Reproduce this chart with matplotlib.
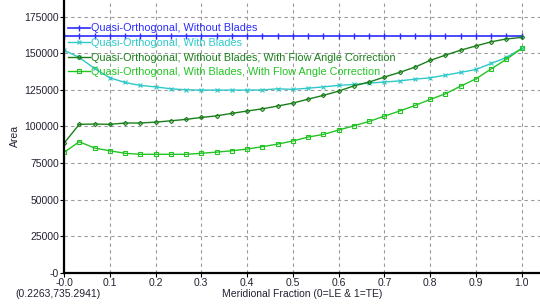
import numpy as np
import matplotlib

matplotlib.use("Agg")
import matplotlib.pyplot as plt

plt.rcParams["font.family"] = ["Liberation Sans", "DejaVu Sans"]

# meridional fraction: 31 stations, 0 -> 1
frac = [i / 30 for i in range(31)]

qo_no_blades = [161700] * 31
qo_blades = [152100, 147100, 139600, 133200, 130000, 128000, 127000, 125700,
             125000, 124800, 124800, 124800, 124800, 124900, 125700, 125300,
             126100, 127000, 128000, 128700, 129600, 130300, 131100, 132300,
             133200, 135000, 136900, 138900, 143000, 147100, 153300]
qo_no_blades_fac = [88400, 101400, 101600, 101400, 102300, 102300, 102900, 103800,
                    104800, 106100, 107200, 108900, 110500, 112000, 113900, 115900,
                    118600, 121200, 124100, 127700, 130300, 133700, 136900, 140500,
                    145100, 148700, 152100, 155000, 157800, 159800, 160800]
qo_blades_fac = [82200, 89500, 85200, 83300, 81600, 80900, 80900, 80900,
                 80900, 81600, 82400, 83300, 84500, 86100, 87900, 90000,
                 92700, 94500, 97500, 100400, 103400, 107000, 110500, 114300,
                 118400, 122300, 127500, 132500, 139300, 145900, 153300]

labels = ["Quasi-Orthogonal, Without Blades",
          "Quasi-Orthogonal, With Blades",
          "Quasi-Orthogonal, Without Blades, With Flow Angle Correction",
          "Quasi-Orthogonal, With Blades, With Flow Angle Correction"]
colors = ["#2b2bff", "#2ec8c8", "#1a7f1a", "#22c422"]

fig = plt.figure(figsize=(5.4, 3.06), dpi=100)
ax = fig.add_axes([0.1185, 0.109, 0.8815, 0.891])

ax.plot(frac, qo_no_blades, color=colors[0], lw=1.2, marker="|", ms=4.5, mew=1,
        label=labels[0])
ax.plot(frac, qo_blades, color=colors[1], lw=1.0, marker="x", ms=2.8, mew=0.8,
        label=labels[1])
ax.plot(frac, qo_no_blades_fac, color=colors[2], lw=1.0, marker="D", ms=2.2,
        mfc="none", mew=0.8, label=labels[2])
ax.plot(frac, qo_blades_fac, color=colors[3], lw=1.0, marker="s", ms=3.4,
        mfc="none", mew=0.8, label=labels[3])

ax.set_xlim(0, 1.04)
ax.set_ylim(0, 186400)
ax.set_xticks(np.arange(0, 1.01, 0.1))
ax.set_xticklabels(["-0.0"] + [f"{v:.1f}" for v in np.arange(0.1, 1.01, 0.1)])
ax.set_yticks(range(0, 175001, 25000))
ax.set_yticklabels(["-0"] + [str(v) for v in range(25000, 175001, 25000)])
ax.tick_params(labelsize=7.5, length=3, width=0.8, pad=0.5, colors="black",
               labelcolor="#222233")
ax.grid(True, color="#9a9a9a", ls=(0, (3, 3)), lw=0.8)

for s in ("top", "right"):
    ax.spines[s].set_visible(False)
for s in ("left", "bottom"):
    ax.spines[s].set_linewidth(1.6)

ax.set_xlabel("Meridional Fraction (0=LE & 1=TE)", fontsize=7.5, labelpad=1,
              color="#222233")
ax.set_ylabel("Area", fontsize=7.5, labelpad=3, color="#222233")
fig.text(0.028, 0.03, "(0.2263,735.2941)", fontsize=7.5, color="#222233")

leg = ax.legend(loc="upper left", bbox_to_anchor=(0.0, 0.93), frameon=False,
                fontsize=7.8, handlelength=2.0, handletextpad=0.1,
                labelspacing=0.42, borderaxespad=0.0)
for txt, c in zip(leg.get_texts(), colors):
    txt.set_color(c)

fig.savefig("out.png", dpi=100)
